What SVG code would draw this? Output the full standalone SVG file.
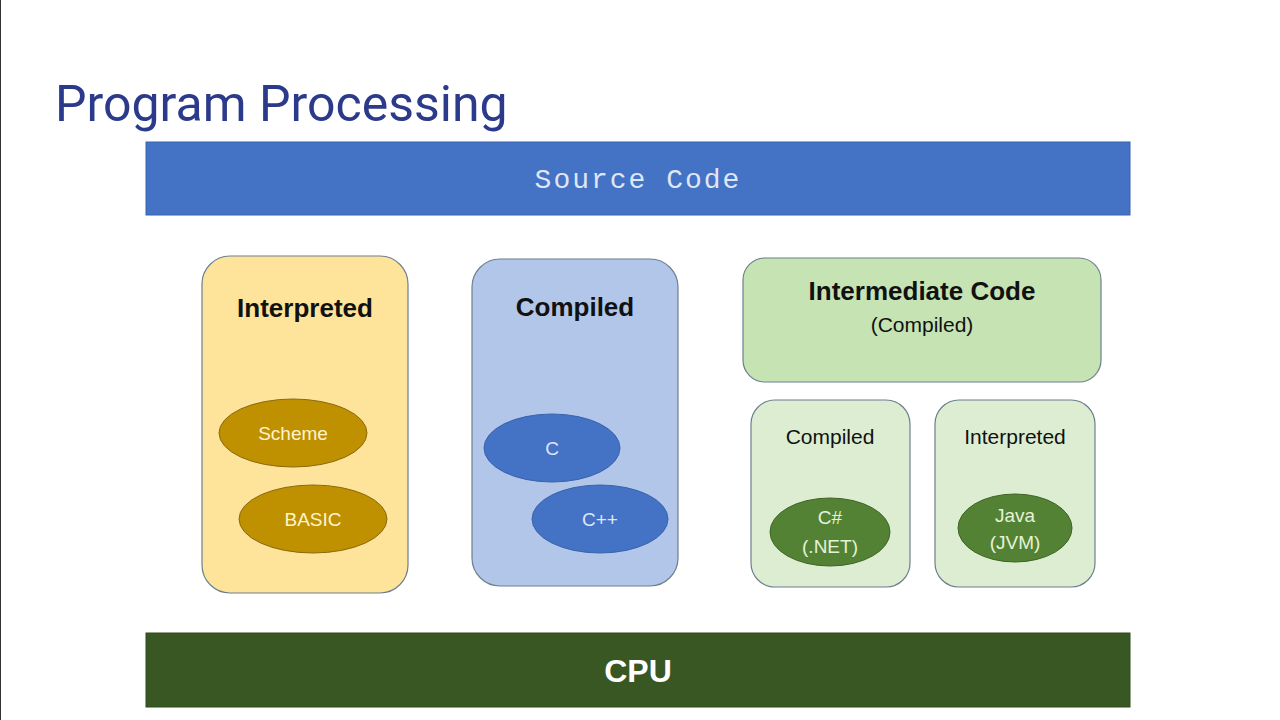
<svg xmlns="http://www.w3.org/2000/svg" width="1280" height="720" viewBox="0 0 1280 720">
<style>
.box{stroke:#6d7f8f;stroke-width:1.2}
.t{font-family:"Liberation Sans",Arial,sans-serif;text-anchor:middle}
.h{font-weight:bold;font-size:26px;fill:#111}
.s{font-size:21px;fill:#111}
.e{font-size:19px}
</style>
<rect width="1280" height="720" fill="#fff"/>
<line x1="0.5" y1="0" x2="0.5" y2="720" stroke="#333" stroke-width="1"/>
<text x="55" y="121" font-family="Roboto,'Liberation Sans',sans-serif" font-size="50" fill="#2b3a8a">Program Processing</text>
<g id="source">
<rect x="146" y="142" width="984" height="73" fill="#4472c4" stroke="#3b63ad"/>
<text x="638" y="188" font-family="'Liberation Mono','Courier New',monospace" font-size="28" fill="#dfe6f5" text-anchor="middle" letter-spacing="2">Source Code</text>
</g>
<g id="interpreted">
<rect class="box" x="202" y="256" width="206" height="337" rx="28" fill="#fde49a"/>
<text class="t h" x="305" y="317">Interpreted</text>
</g>
<g id="scheme"><ellipse cx="293" cy="433" rx="74" ry="34" fill="#bf9000" stroke="#8a6a10"/><text class="t e" x="293" y="440" fill="#fff3cc">Scheme</text></g>
<g id="basic"><ellipse cx="313" cy="519" rx="74" ry="34" fill="#bf9000" stroke="#8a6a10"/><text class="t e" x="313" y="526" fill="#fff3cc">BASIC</text></g>
<g id="compiled">
<rect class="box" x="472" y="259" width="206" height="327" rx="28" fill="#b1c6e8"/>
<text class="t h" x="575" y="316">Compiled</text>
</g>
<g id="c"><ellipse cx="552" cy="448" rx="68" ry="34" fill="#4472c4" stroke="#3b63ad"/><text class="t e" x="552" y="455" fill="#dfe6f5">C</text></g>
<g id="cpp"><ellipse cx="600" cy="519" rx="68" ry="34" fill="#4472c4" stroke="#3b63ad"/><text class="t e" x="600" y="526" fill="#dfe6f5">C++</text></g>
<g id="intermediate">
<rect class="box" x="743" y="258" width="358" height="124" rx="22" fill="#c6e3b4"/>
<text class="t h" x="922" y="300">Intermediate Code</text>
<text class="t s" x="922" y="332">(Compiled)</text>
</g>
<g id="ic-compiled">
<rect class="box" x="751" y="400" width="159" height="187" rx="24" fill="#dcedd2"/>
<text class="t s" x="830" y="444">Compiled</text>
</g>
<g id="csharp"><ellipse cx="830" cy="532" rx="60" ry="34" fill="#548235" stroke="#3f6427"/><text class="t e" x="830" y="524" fill="#e4f3d8">C#</text><text class="t e" x="830" y="553" fill="#e4f3d8">(.NET)</text></g>
<g id="ic-interpreted">
<rect class="box" x="935" y="400" width="160" height="187" rx="24" fill="#dcedd2"/>
<text class="t s" x="1015" y="444">Interpreted</text>
</g>
<g id="java"><ellipse cx="1015" cy="528" rx="57" ry="34" fill="#548235" stroke="#3f6427"/><text class="t e" x="1015" y="522" fill="#e4f3d8">Java</text><text class="t e" x="1015" y="549" fill="#e4f3d8">(JVM)</text></g>
<g id="cpu">
<rect x="146" y="633" width="984" height="74" fill="#385723" stroke="#2e4a1d"/>
<text class="t" x="638" y="682" font-size="32" font-weight="bold" fill="#fff">CPU</text>
</g>
<g id="connectors"/>
</svg>
